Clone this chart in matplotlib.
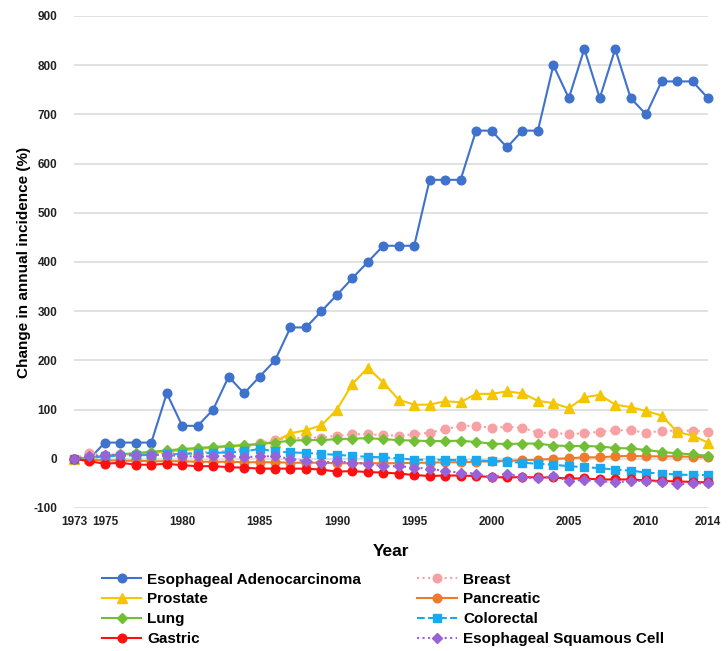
import numpy as np
from matplotlib import pyplot as plt

plt.rcParams['font.family'] = ['Liberation Sans', 'DejaVu Sans']
plt.rcParams['font.weight'] = 'bold'
plt.rcParams['axes.unicode_minus'] = False

years = list(range(1973, 2015))

esoph_adeno = [0, 0, 33, 33, 33, 33, 133, 67, 67, 100, 167, 133, 167, 200, 267, 267, 300, 333, 367, 400,
               433, 433, 433, 567, 567, 567, 667, 667, 633, 667, 667, 800, 733, 833, 733, 833, 733, 700,
               767, 767, 767, 733]
prostate = [0, 2, 5, 8, 10, 12, 15, 17, 20, 22, 25, 27, 30, 35, 52, 58, 68, 100, 152, 185,
            155, 120, 110, 110, 117, 115, 132, 132, 137, 133, 118, 113, 103, 125, 130, 110, 105, 97,
            88, 55, 47, 33]
lung = [0, 3, 6, 9, 12, 14, 17, 20, 22, 24, 26, 28, 30, 33, 37, 38, 38, 40, 41, 42,
        40, 38, 37, 36, 36, 37, 34, 31, 30, 31, 31, 27, 26, 26, 25, 22, 21, 18,
        14, 11, 9, 6]
gastric = [0, -5, -10, -8, -12, -12, -10, -13, -15, -15, -17, -18, -20, -20, -20, -20, -22, -26, -25, -27,
           -28, -30, -33, -35, -34, -34, -35, -37, -38, -37, -38, -38, -40, -40, -42, -42, -42, -44,
           -45, -46, -47, -48]
breast = [0, 12, 8, 9, 10, 10, 11, 12, 13, 14, 16, 20, 33, 38, 42, 43, 43, 47, 50, 50,
          48, 47, 50, 53, 60, 67, 67, 63, 65, 63, 53, 53, 50, 52, 55, 58, 58, 53,
          57, 57, 57, 55]
pancreatic = [0, -2, -3, -4, -4, -5, -5, -5, -6, -6, -6, -7, -7, -7, -8, -8, -8, -9, -9, -9,
              -9, -9, -8, -8, -7, -7, -6, -5, -4, -3, -2, 0, 1, 3, 3, 5, 6, 5,
              5, 5, 4, 3]
colorectal = [0, 2, 5, 6, 7, 8, 9, 10, 11, 12, 13, 15, 20, 15, 13, 12, 10, 8, 6, 4,
              3, 1, -2, -2, -2, -3, -3, -5, -6, -8, -10, -12, -15, -17, -19, -22, -24, -28,
              -30, -32, -33, -33]
esoph_squam = [0, 5, 8, 8, 8, 8, 8, 5, 5, 5, 6, 3, 5, 5, 0, -5, -8, -5, -8, -10,
               -15, -15, -18, -20, -25, -28, -30, -38, -30, -38, -40, -35, -45, -43, -45, -48, -45, -45,
               -47, -52, -50, -50]

series = [
    ('Esophageal Adenocarcinoma', esoph_adeno, '#3F72CC', '-', 'o'),
    ('Breast', breast, '#F7A1A4', ':', 'o'),
    ('Prostate', prostate, '#F4C600', '-', '^'),
    ('Pancreatic', pancreatic, '#EE7A2C', '-', 'o'),
    ('Lung', lung, '#72BF35', '-', 'D'),
    ('Colorectal', colorectal, '#1AA8EE', '--', 's'),
    ('Gastric', gastric, '#FF1010', '-', 'o'),
    ('Esophageal Squamous Cell', esoph_squam, '#9A62D8', ':', 'D'),
]

fig = plt.figure(figsize=(7.28, 6.51), dpi=100)
ax = fig.add_axes([74 / 728, 1 - 508 / 651, 634 / 728, 492 / 651])

# draw the low, crowded series first so the big ones sit on top
order = [7, 6, 5, 3, 1, 4, 2, 0]
handles = {}
for i in order:
    name, vals, col, ls, mk = series[i]
    ms = {'o': 6.2, 'D': 5, '^': 6.5, 's': 5.8}[mk]
    h, = ax.plot(years, vals, color=col, linestyle=ls, marker=mk, markersize=ms,
                 linewidth=1.5, label=name, clip_on=False, zorder=3 + i * 0.01)
    handles[i] = h

ax.set_xlim(1973, 2014)
ax.set_ylim(-100, 900)
ax.set_yticks(np.arange(-100, 901, 100))
ax.set_xticks([1973, 1975, 1980, 1985, 1990, 1995, 2000, 2005, 2010, 2014])
ax.grid(axis='y', color='#dcdcdc', linewidth=1.2)
ax.set_axisbelow(True)
for s in ax.spines.values():
    s.set_visible(False)
ax.tick_params(length=0, labelsize=8.5, colors='#222222', pad=6)
ax.tick_params(axis='y', pad=12)
ax.set_ylabel('Change in annual incidence (%)', fontsize=11, fontweight='bold', labelpad=2)
ax.set_xlabel('Year', fontsize=12.5, fontweight='bold', labelpad=11)

# legend fills column by column: left column first, then right
leg_order = [0, 2, 4, 6, 1, 3, 5, 7]
leg = fig.legend([handles[i] for i in leg_order], [series[i][0] for i in leg_order],
                 loc='upper left', bbox_to_anchor=(94 / 728, 1 - 565 / 651), ncol=2,
                 frameon=False, fontsize=11, handlelength=2.6, handletextpad=0.4,
                 columnspacing=3.65, labelspacing=0.38, borderpad=0)

fig.savefig('out.png', dpi=100)
